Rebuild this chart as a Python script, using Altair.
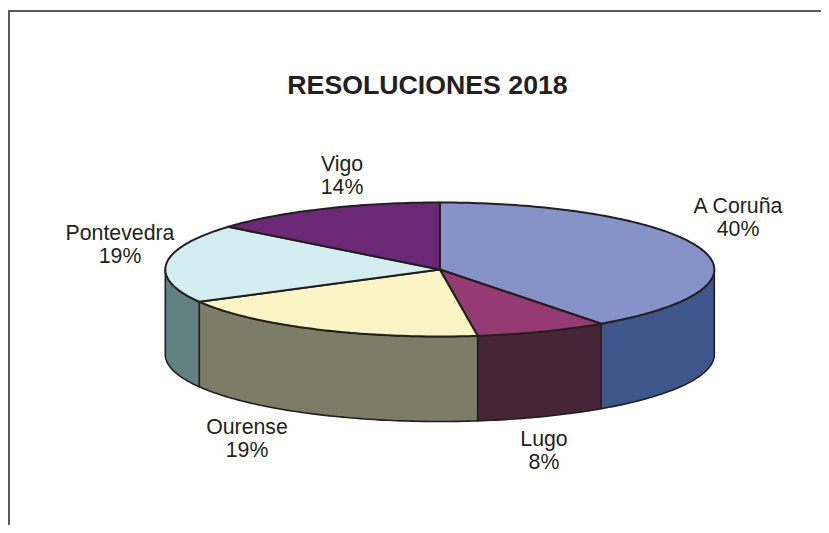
import math
import altair as alt

# Data (labels show the rounded percentages)
regions = ["A Coruña", "Lugo", "Ourense", "Pontevedra", "Vigo"]
shares = [40, 7.8, 19.2, 19, 14]
label_text = ["A Coruña\n40%", "Lugo\n8%", "Ourense\n19%", "Pontevedra\n19%", "Vigo\n14%"]

# Styles and layout (chart pixels; the page margin is 8px)
top_colors = ["#8693C9", "#953A72", "#FBF4C4", "#D3EDF0", "#6A2877"]
wall_colors = ["#3F568A", "#472539", "#7C7D66", "#618080", "#6A2877"]
label_x = [730, 536, 239, 112, 334]
label_y = [199, 432, 420, 226, 157]
CX, CY, RX, RY, DEPTH = 431.8, 261.5, 274.5, 67.0, 85.0
EDGE = "#231F20"


def rim(deg, drop=0.0):
    t = math.radians(deg)
    return [CX + RX * math.sin(t), CY - RY * math.cos(t) + drop]


def degrees(a, b):
    n = max(2, int(abs(b - a)) + 2)
    return [a + (b - a) * i / (n - 1) for i in range(n)]


tops, walls = [], []
start = 0.0
for name, share, top_c, wall_c in zip(regions, shares, top_colors, wall_colors):
    end = start + share * 3.6
    ring = [[CX, CY]] + [rim(d) for d in degrees(start, end)] + [[CX, CY]]
    tops.append({"type": "Feature", "properties": {"name": name, "fill": top_c},
                 "geometry": {"type": "Polygon", "coordinates": [ring]}})
    lo, hi = max(start, 90.0), min(end, 270.0)
    if lo < hi:
        arc = degrees(lo, hi)
        ring = [rim(d) for d in arc] + [rim(d, DEPTH) for d in reversed(arc)]
        ring.append(ring[0])
        walls.append({"type": "Feature", "properties": {"name": name, "fill": wall_c},
                      "geometry": {"type": "Polygon", "coordinates": [ring]}})
    start = end

projection = dict(type="identity", scale=1, translate=[0, 0])
names_scale = alt.Scale(domain=regions, range=top_colors)
walls_scale = alt.Scale(domain=regions, range=wall_colors)

wall_layer = (
    alt.Chart(alt.Data(values=walls))
    .mark_geoshape(stroke=EDGE, strokeWidth=1.6, strokeJoin="round")
    .encode(color=alt.Color("properties.name:N", scale=walls_scale, legend=None))
    .project(**projection)
)
top_layer = (
    alt.Chart(alt.Data(values=tops))
    .mark_geoshape(stroke=EDGE, strokeWidth=2, strokeJoin="round")
    .encode(color=alt.Color("properties.name:N", scale=names_scale, legend=None))
    .project(**projection)
)
labels = (
    alt.Chart(alt.Data(values=[
        {"t": t, "lx": x, "ly": y} for t, x, y in zip(label_text, label_x, label_y)
    ]))
    .mark_text(font="Liberation Sans", fontSize=21.3, color="#231F20",
               lineBreak="\n", lineHeight=23, align="center", baseline="middle")
    .encode(longitude="lx:Q", latitude="ly:Q", text="t:N")
    .project(**projection)
)
frame_left = alt.Chart().mark_rule(color="#5A5A5A", strokeWidth=2).encode(
    x=alt.value(1), y=alt.value(2), y2=alt.value(517))
frame_top = alt.Chart().mark_rule(color="#5A5A5A", strokeWidth=2).encode(
    x=alt.value(0), x2=alt.value(813), y=alt.value(3))

chart = (
    alt.layer(frame_left, frame_top, wall_layer, top_layer, labels)
    .resolve_scale(color="independent")
    .properties(
        width=813, height=517, padding=0,
        autosize=alt.AutoSizeParams(type="none"),
        title=alt.TitleParams("RESOLUCIONES 2018", font="Liberation Sans", fontSize=26.7,
                              fontWeight="bold", color="#231F20", anchor="middle",
                              dx=13, dy=96),
    )
    .configure_view(stroke=None)
)

chart.save("out.html", embed_options={"renderer": "svg", "actions": False})
